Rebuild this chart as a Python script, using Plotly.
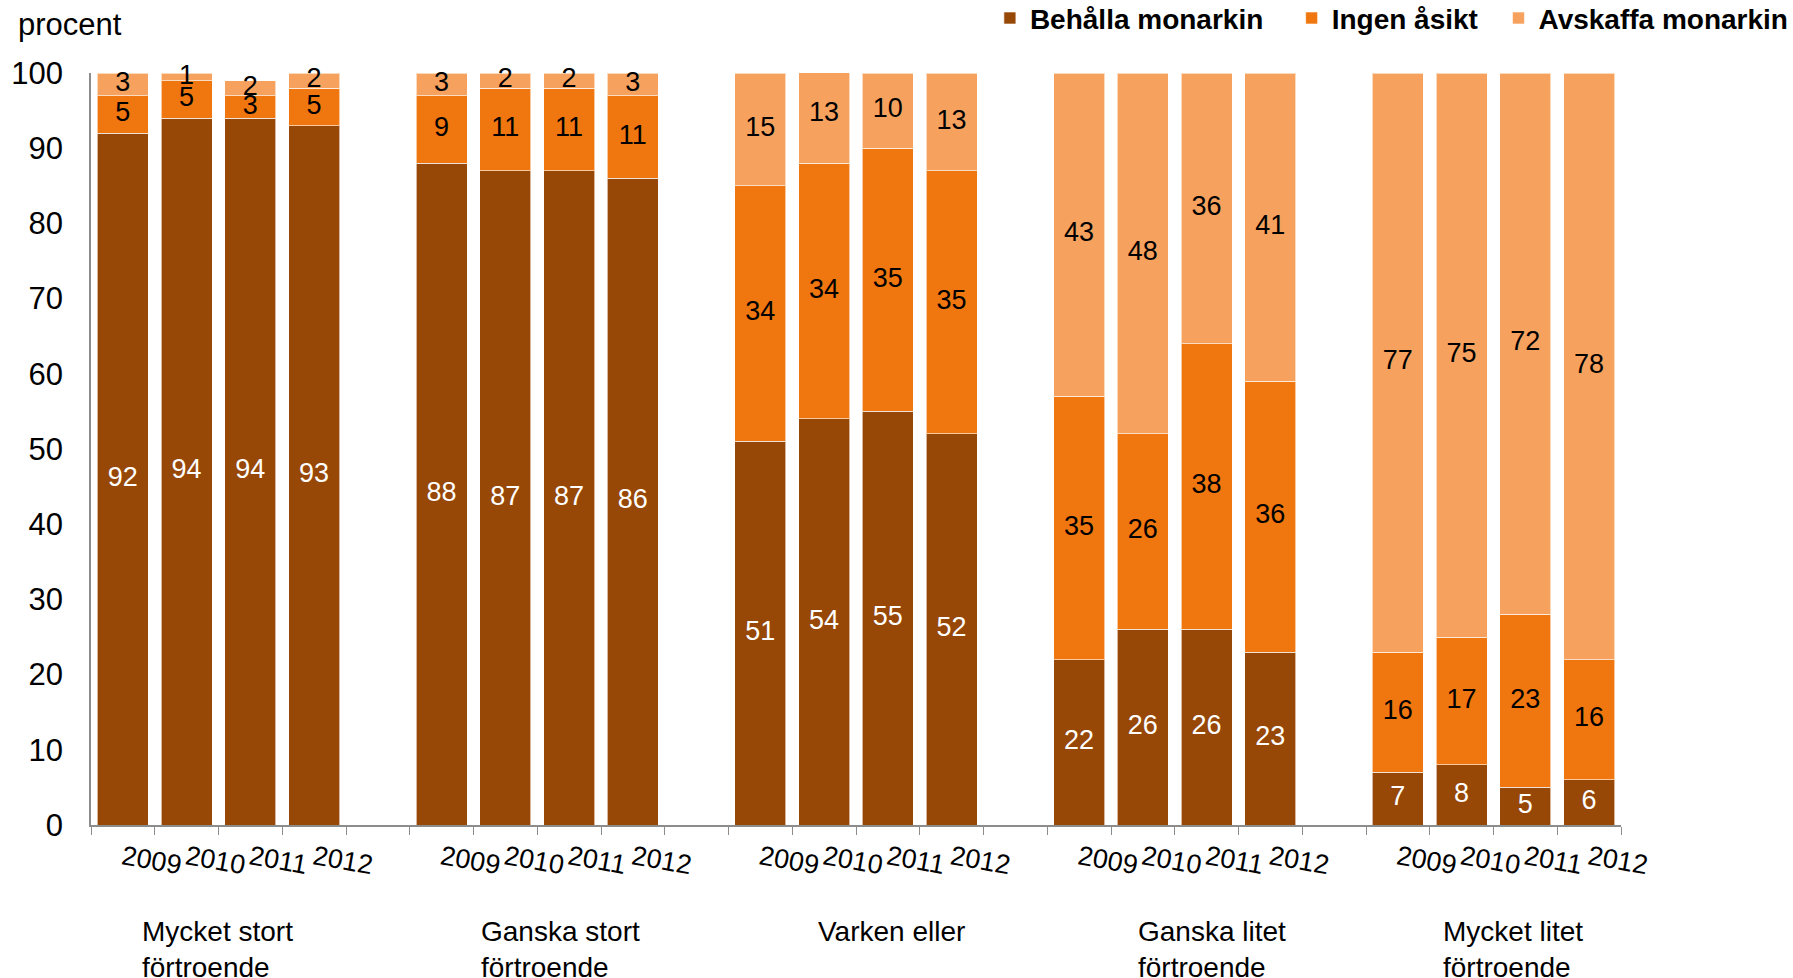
import plotly.graph_objects as go

groups = ["Mycket stort<br>förtroende", "Ganska stort<br>förtroende", "Varken eller",
          "Ganska litet<br>förtroende", "Mycket litet<br>förtroende"]
years = ["2009", "2010", "2011", "2012"]

behalla = [[92, 94, 94, 93], [88, 87, 87, 86], [51, 54, 55, 52], [22, 26, 26, 23], [7, 8, 5, 6]]
ingen = [[5, 5, 3, 5], [9, 11, 11, 11], [34, 34, 35, 35], [35, 26, 38, 36], [16, 17, 23, 16]]
avskaffa = [[3, 1, 2, 2], [3, 2, 2, 3], [15, 13, 10, 13], [43, 48, 36, 41], [77, 75, 72, 78]]

series = [("Behålla monarkin", behalla, "#974706", "white"),
          ("Ingen åsikt", ingen, "#F0760F", "black"),
          ("Avskaffa monarkin", avskaffa, "#F6A25E", "black")]

# category layout: 4 year bars per group plus an empty gap slot between groups
cats, ticktext = [], []
for gi, g in enumerate(groups):
    for y in years:
        cats.append(f"g{gi}-{y}")
        ticktext.append(y)
    if gi < len(groups) - 1:
        cats.append(f"gap{gi}")
        ticktext.append("")

FONT = "Liberation Sans, Arial, sans-serif"
NBSP = "\u00a0"
legend_pad = [3, 2, 0]
fig = go.Figure()
base = [[0] * len(years) for _ in groups]
label_traces = []
for si, (name, vals, color, tcolor) in enumerate(series):
    xs, ys, mids = [], [], []
    for gi in range(len(groups)):
        for yi, y in enumerate(years):
            xs.append(f"g{gi}-{y}")
            ys.append(vals[gi][yi])
            mids.append(base[gi][yi] + vals[gi][yi] / 2)
            base[gi][yi] += vals[gi][yi]
    fig.add_trace(go.Bar(
        x=xs, y=ys, name=name + NBSP * legend_pad[si],
        marker=dict(color=color, line=dict(color="rgba(255,255,255,0.6)", width=1)),
        width=0.8, hoverinfo="x+y+name",
    ))
    label_traces.append(go.Scatter(
        x=xs, y=mids, mode="text", text=[str(v) for v in ys], showlegend=False,
        textposition="middle center", cliponaxis=False, hoverinfo="skip",
        textfont=dict(family=FONT, size=27, color=tcolor),
    ))
for t in label_traces:
    fig.add_trace(t)

# group label positions (category units) as placed in the original
label_x = [1.49, 6.86, 12.05, 17.08, 21.81]
for gi, g in enumerate(groups):
    fig.add_annotation(x=label_x[gi], xref="x", y=-0.118, yref="paper", text=g,
                       showarrow=False, xanchor="center", yanchor="top", align="left",
                       font=dict(family=FONT, size=28, color="black"))

fig.add_annotation(x=-0.049, xref="paper", y=1.064, yref="paper", text="procent",
                   showarrow=False, xanchor="left", yanchor="middle",
                   font=dict(family=FONT, size=31, color="black"))

fig.update_layout(
    width=1793, height=978, barmode="stack", bargap=0.2,
    margin=dict(l=91, r=172, t=73, b=153, autoexpand=False),
    paper_bgcolor="white", plot_bgcolor="white",
    showlegend=True,
    legend=dict(orientation="h", x=1.113, xanchor="right", y=1.106, yanchor="top",
                font=dict(family=FONT, size=28, color="black", weight="bold"),
                traceorder="normal", bgcolor="rgba(0,0,0,0)", itemwidth=30),
    font=dict(family=FONT),
)
fig.update_xaxes(type="category", categoryorder="array", categoryarray=cats,
                 tickmode="array", tickvals=cats, ticktext=ticktext, tickangle=10,
                 tickson="boundaries", ticks="outside", ticklen=8, tickcolor="#8c8c8c",
                 showline=True, linecolor="#8c8c8c", linewidth=1.5, showgrid=False,
                 range=[-0.5, len(cats) - 0.5], ticklabelstandoff=5,
                 tickfont=dict(family=FONT, size=27, color="black"))
fig.update_yaxes(range=[0, 100], tickvals=list(range(0, 101, 10)), showgrid=False,
                 showline=True, linecolor="#8c8c8c", linewidth=1.5, ticks="",
                 ticklabelstandoff=20, zeroline=False,
                 tickfont=dict(family=FONT, size=31, color="black"))

fig.write_html("out.html", config={"displayModeBar": False},
               post_script="document.body.style.margin='0';")
